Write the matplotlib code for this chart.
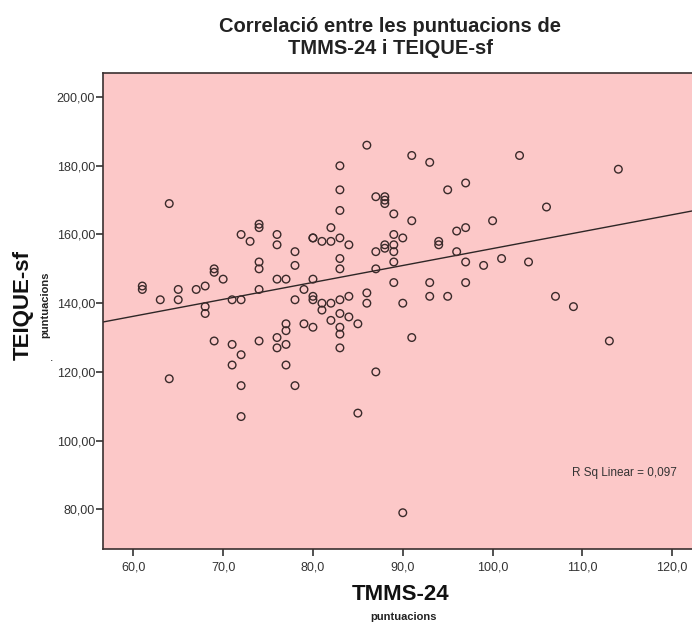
#coding:utf-8

import numpy as np
import matplotlib
matplotlib.use("Agg")
import matplotlib.pyplot as plt
from matplotlib.ticker import FuncFormatter

plt.rcParams['font.family'] = ['Liberation Sans', 'DejaVu Sans']

# TMMS-24 (x) i TEIQUE-sf (y), llegits del grafic
tmms = [64, 61, 61, 63, 65, 65, 67, 68, 68, 68,
        69, 69, 70, 71, 72, 72, 73, 74, 74, 74,
        74, 74, 76, 76, 76, 77, 78, 78, 78, 77,
        77, 76, 86, 91, 93, 83, 83, 83, 87, 88,
        88, 88, 95, 97, 89, 91, 82, 80, 80, 81,
        82, 83, 84, 89, 90, 88, 88, 89, 87, 89,
        89, 94, 94, 96, 97, 100, 96, 97, 99, 83,
        83, 87, 89, 93, 97, 93, 95, 80, 79, 80,
        80, 81, 82, 83, 84, 86, 86, 90, 81, 82,
        83, 84, 85, 83, 83, 79, 80, 91, 103, 114,
        106, 101, 104, 107, 109, 113, 69, 71, 74, 76,
        77, 72, 71, 77, 64, 72, 78, 72, 83, 87,
        85, 90]
teique = [169, 145, 144, 141, 144, 141, 144, 145, 139, 137,
          150, 149, 147, 141, 141, 160, 158, 163, 162, 152,
          150, 144, 160, 157, 147, 147, 155, 151, 141, 134,
          132, 130, 186, 183, 181, 180, 173, 167, 171, 171,
          170, 169, 173, 175, 166, 164, 162, 159, 159, 158,
          158, 159, 157, 160, 159, 157, 156, 157, 155, 155,
          152, 158, 157, 161, 162, 164, 155, 152, 151, 153,
          150, 150, 146, 146, 146, 142, 142, 147, 144, 142,
          141, 140, 140, 141, 142, 143, 140, 140, 138, 135,
          137, 136, 134, 133, 131, 134, 133, 130, 183, 179,
          168, 153, 152, 142, 139, 129, 129, 128, 129, 127,
          128, 125, 122, 122, 118, 116, 116, 107, 127, 120,
          108, 79]

x_ticks = [60, 70, 80, 90, 100, 110, 120]
y_ticks = [80, 100, 120, 140, 160, 180, 200]
r2_text = "R Sq Linear = 0,097"


def comma_fmt(decimals):
    return FuncFormatter(lambda v, p: ("%.*f" % (decimals, v)).replace(".", ","))


def main():
    x = np.array(tmms, dtype=float)
    y = np.array(teique, dtype=float)

    fig = plt.figure(figsize=(6.92, 6.23), dpi=100)
    fig.patch.set_facecolor("white")
    ax = fig.add_axes([0.1493, 0.118, 0.8507, 0.7653])
    ax.set_facecolor("#fcc8c8")

    ax.scatter(x, y, s=30, facecolors="none", edgecolors="#3a2a2a", linewidths=1.0, zorder=3)

    # recta de regressio
    b, a = np.polyfit(x, y, 1)
    xl = np.array([56.66, 122.2])
    ax.plot(xl, a + b * xl, color="#2e2626", lw=1.0, zorder=2)

    ax.set_xlim(56.66, 122.2)
    ax.set_ylim(68.3, 207.1)
    ax.set_xticks(x_ticks)
    ax.set_yticks(y_ticks)
    ax.xaxis.set_major_formatter(comma_fmt(1))
    ax.yaxis.set_major_formatter(comma_fmt(2))
    ax.tick_params(axis="both", direction="out", length=5, width=1.2, colors="#333333",
                   labelsize=9, labelcolor="#333333")
    ax.tick_params(axis="x", pad=4)
    ax.tick_params(axis="y", pad=1)
    for side in ["left", "bottom", "top"]:
        ax.spines[side].set_color("#3a3030")
        ax.spines[side].set_linewidth(1.2)
    ax.spines["right"].set_visible(False)

    ax.text(120.5, 90.5, r2_text, ha="right", va="center", fontsize=8.5, color="#333333")

    fig.text(390 / 692, 1 - 38 / 623, "Correlació entre les puntuacions de\nTMMS-24 i TEIQUE-sf",
             ha="center", va="center", fontsize=14.5, fontweight="bold", color="#222222",
             linespacing=1.2)

    fig.text(401 / 692, 1 - 595 / 623, "TMMS-24", ha="center", va="center",
             fontsize=16, fontweight="bold", color="#111111")
    fig.text(404 / 692, 1 - 617 / 623, "puntuacions", ha="center", va="center",
             fontsize=8, fontweight="bold", color="#222222")

    fig.text(23 / 692, 1 - 305 / 623, "TEIQUE-sf", ha="center", va="center", rotation=90,
             fontsize=16, fontweight="bold", color="#111111")
    fig.text(45 / 692, 1 - 305 / 623, "puntuacions", ha="center", va="center", rotation=90,
             fontsize=8, fontweight="bold", color="#222222")
    fig.text(52 / 692, 1 - 358 / 623, ".", ha="center", va="center", fontsize=9, color="#222222")

    fig.savefig("out.png", dpi=100)


if __name__ == '__main__':
    main()
